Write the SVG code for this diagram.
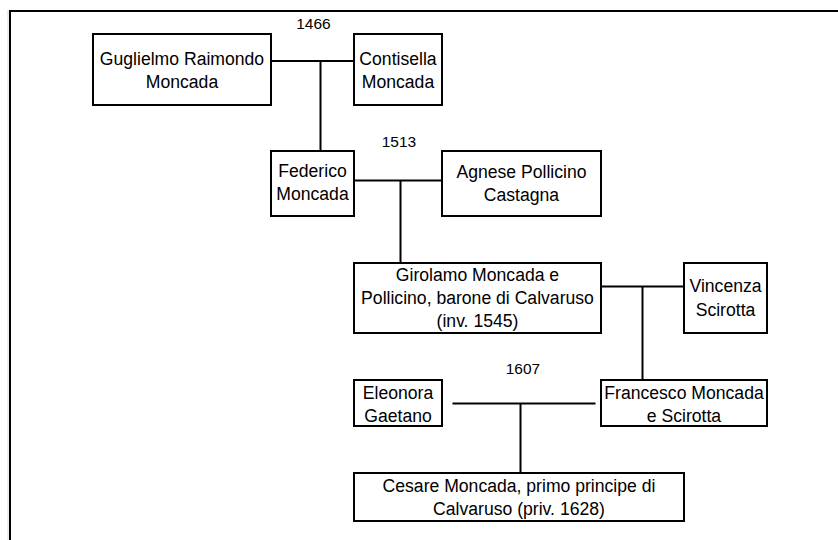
<svg xmlns="http://www.w3.org/2000/svg" width="838" height="540" viewBox="0 0 838 540">
<style>
.box{fill:#fff;stroke:#000;stroke-width:2}
.t{font-family:"Liberation Sans",Arial,sans-serif;font-size:17.6px;fill:#000;text-anchor:middle}
.y{font-family:"Liberation Sans",Arial,sans-serif;font-size:15.5px;fill:#000;text-anchor:middle}
.c{stroke:#000;stroke-width:2;fill:none}
</style>
<rect width="838" height="540" fill="#fff"/>
<line x1="8" y1="10" x2="8" y2="540" stroke="#dcdcdc" stroke-width="1"/>
<path d="M10,540 V11 H838" fill="none" stroke="#000" stroke-width="2"/>
<g id="connectors">
<path class="c" d="M271,61 H354 M320.5,61 V151"/>
<path class="c" d="M354,180.5 H442 M400.5,180.5 V263"/>
<path class="c" d="M601,286.5 H684 M642.5,286.5 V380"/>
<path class="c" d="M452.5,403.5 H595.5 M520.5,403.5 V473"/>
</g>
<g id="labels">
<text class="y" x="313.5" y="28.5">1466</text>
<text class="y" x="399" y="146.5">1513</text>
<text class="y" x="523" y="374">1607</text>
</g>
<g id="guglielmo">
<rect class="box" x="93" y="34" width="178" height="71"/>
<text class="t" x="182" y="64.5">Guglielmo Raimondo</text>
<text class="t" x="182" y="87.5">Moncada</text>
</g>
<g id="contisella">
<rect class="box" x="354" y="34" width="88" height="71"/>
<text class="t" x="398" y="64.5">Contisella</text>
<text class="t" x="398" y="87.5">Moncada</text>
</g>
<g id="federico">
<rect class="box" x="271" y="151" width="83" height="65"/>
<text class="t" x="312.5" y="177">Federico</text>
<text class="t" x="312.5" y="200">Moncada</text>
</g>
<g id="agnese">
<rect class="box" x="442" y="151" width="159" height="65"/>
<text class="t" x="521.5" y="177.5">Agnese Pollicino</text>
<text class="t" x="521.5" y="200.5">Castagna</text>
</g>
<g id="girolamo">
<rect class="box" x="354" y="263" width="247" height="70"/>
<text class="t" x="477.5" y="280.5">Girolamo Moncada e</text>
<text class="t" x="477.5" y="304">Pollicino, barone di Calvaruso</text>
<text class="t" x="477.5" y="327">(inv. 1545)</text>
</g>
<g id="vincenza">
<rect class="box" x="684" y="263" width="83" height="70"/>
<text class="t" x="725.5" y="291.5">Vincenza</text>
<text class="t" x="725.5" y="315.5">Scirotta</text>
</g>
<g id="eleonora">
<rect class="box" x="354" y="380" width="88" height="46"/>
<text class="t" x="398" y="398.5">Eleonora</text>
<text class="t" x="398" y="421.5">Gaetano</text>
</g>
<g id="francesco">
<rect class="box" x="601" y="380" width="166" height="46"/>
<text class="t" x="684" y="398.5">Francesco Moncada</text>
<text class="t" x="684" y="421.5">e Scirotta</text>
</g>
<g id="cesare">
<rect class="box" x="354" y="473" width="330" height="48"/>
<text class="t" x="519" y="491.5">Cesare Moncada, primo principe di</text>
<text class="t" x="519" y="514.5">Calvaruso (priv. 1628)</text>
</g>
</svg>
